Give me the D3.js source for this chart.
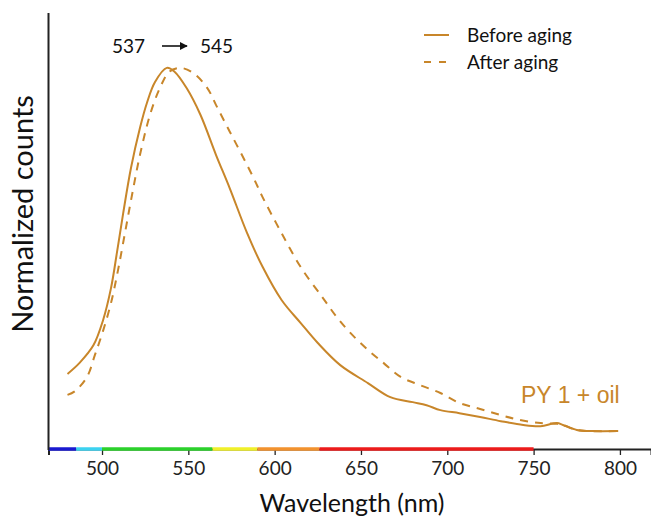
<!DOCTYPE html>
<html>
<head>
<meta charset="utf-8">
<script src="https://cdn.jsdelivr.net/npm/d3@7"></script>
<style>
  html, body { margin: 0; padding: 0; background: #fff; }
  svg { display: block; }
</style>
</head>
<body>
<svg id="chart" width="651" height="520"></svg>
<script>
// ---- data ----
const beforeWl = [480, 487, 495, 500.6, 505.2, 508.7, 512.2, 516.8, 522, 526, 530.7, 537.5, 542, 549, 557, 566, 574, 584, 593, 604, 615, 625, 638, 654, 667, 680, 688, 696, 707, 719, 731, 744, 754, 763.5, 767, 775, 784, 799];
const beforeVal = [0.197, 0.226, 0.272, 0.338, 0.422, 0.517, 0.617, 0.738, 0.843, 0.908, 0.963, 1.0, 0.990, 0.947, 0.877, 0.772, 0.684, 0.567, 0.478, 0.391, 0.331, 0.278, 0.220, 0.173, 0.136, 0.123, 0.115, 0.102, 0.094, 0.084, 0.073, 0.063, 0.060, 0.068, 0.063, 0.050, 0.047, 0.047];
const afterWl = [480, 484.4, 491.3, 495.9, 500.6, 505.2, 509.3, 513.3, 517.4, 522, 527.8, 533.6, 539, 545.5, 553, 561, 566, 572, 578, 587.5, 593, 603, 615, 628, 636, 644, 654, 663, 673, 684, 696, 707, 719, 731, 742, 754, 763.5, 767, 775, 784, 799];
const afterVal = [0.142, 0.152, 0.189, 0.247, 0.310, 0.383, 0.470, 0.567, 0.667, 0.772, 0.877, 0.948, 0.990, 1.0, 0.986, 0.947, 0.903, 0.850, 0.798, 0.714, 0.661, 0.575, 0.478, 0.396, 0.346, 0.304, 0.260, 0.226, 0.189, 0.168, 0.147, 0.121, 0.105, 0.089, 0.076, 0.068, 0.066, 0.063, 0.050, 0.047, 0.047];
const xTicks = [500, 550, 600, 650, 700, 750, 800];
const bandEdges = [469, 485, 500, 564, 590, 626, 750];
const bandColors = ["#1a1ad0", "#3cd2f0", "#2bd12b", "#f0f02a", "#f2922e", "#ec1c1c"];
const legendLabels = ["Before aging", "After aging"];
const peakFrom = "537", peakTo = "545";
const sampleLabel = "PY 1 + oil";

// ---- layout ----
const svg = d3.select("#chart");
const curveColor = "#c8862a";
const x = d3.scaleLinear().domain([469, 818]).range([48.5, 651]);
const y = d3.scaleLinear().domain([0, 1.144]).range([449, 13]);
const font = "Lato, 'Open Sans', sans-serif";

// x axis
const xAxis = d3.axisBottom(x).tickValues(xTicks).tickSize(6).tickPadding(7).tickFormat(d3.format("d"));
const gx = svg.append("g").attr("transform", "translate(0,449)").call(xAxis);
gx.select(".domain").attr("stroke", "#222").attr("stroke-width", 2);
gx.selectAll(".tick line").attr("stroke", "#222").attr("stroke-width", 1.3);
gx.selectAll(".tick text").attr("font-family", font).attr("font-size", 19).attr("fill", "#222");

// spectrum bands
svg.append("g").selectAll("line").data(bandColors).join("line")
  .attr("x1", (d, i) => x(bandEdges[i]))
  .attr("x2", (d, i) => x(bandEdges[i + 1]))
  .attr("y1", 449).attr("y2", 449)
  .attr("stroke", d => d).attr("stroke-width", 3.5);

// y axis line
svg.append("line").attr("x1", 48.5).attr("x2", 48.5).attr("y1", 13).attr("y2", 450)
  .attr("stroke", "#222").attr("stroke-width", 2);

// curves
const line = d3.line().x(d => x(d[0])).y(d => y(d[1])).curve(d3.curveCatmullRom.alpha(0.5));
svg.append("path").datum(beforeWl.map((w, i) => [w, beforeVal[i]]))
  .attr("d", line).attr("fill", "none").attr("stroke", curveColor).attr("stroke-width", 2);
svg.append("path").datum(afterWl.map((w, i) => [w, afterVal[i]]))
  .attr("d", line).attr("fill", "none").attr("stroke", curveColor).attr("stroke-width", 2)
  .attr("stroke-dasharray", "8,7");

// axis titles
svg.append("text").attr("x", 352).attr("y", 512).attr("text-anchor", "middle")
  .attr("font-family", font).attr("font-size", 25).attr("fill", "#111").text("Wavelength (nm)");
svg.append("text").attr("transform", "translate(33,214) rotate(-90)").attr("text-anchor", "middle")
  .attr("font-family", font).attr("font-size", 29).attr("fill", "#111").text("Normalized counts");

// legend
const leg = svg.append("g");
legendLabels.forEach((lab, i) => {
  const ly = 35 + i * 27;
  leg.append("line").attr("x1", 424).attr("x2", 449).attr("y1", ly).attr("y2", ly)
    .attr("stroke", curveColor).attr("stroke-width", 2)
    .attr("stroke-dasharray", i === 1 ? "7,8" : null);
  leg.append("text").attr("x", 467).attr("y", ly + 7).attr("font-family", font)
    .attr("font-size", 19).attr("fill", "#111").text(lab);
});

// peak shift annotation
svg.append("text").attr("x", 112).attr("y", 53).attr("font-family", font)
  .attr("font-size", 19).attr("fill", "#111").text(peakFrom);
svg.append("text").attr("x", 200).attr("y", 53).attr("font-family", font)
  .attr("font-size", 19).attr("fill", "#111").text(peakTo);
svg.append("defs").append("marker").attr("id", "ah").attr("viewBox", "0 0 10 10")
  .attr("refX", 9).attr("refY", 5).attr("markerWidth", 8).attr("markerHeight", 8)
  .attr("markerUnits", "userSpaceOnUse").attr("orient", "auto")
  .append("path").attr("d", "M0,0 L10,5 L0,10 Z").attr("fill", "#111");
svg.append("line").attr("x1", 162).attr("x2", 187).attr("y1", 46).attr("y2", 46)
  .attr("stroke", "#111").attr("stroke-width", 1.6).attr("marker-end", "url(#ah)");

// sample label
svg.append("text").attr("x", 521).attr("y", 403).attr("font-family", "'Liberation Sans', Arial, sans-serif")
  .attr("font-size", 23).attr("fill", curveColor).text(sampleLabel);
</script>
</body>
</html>
